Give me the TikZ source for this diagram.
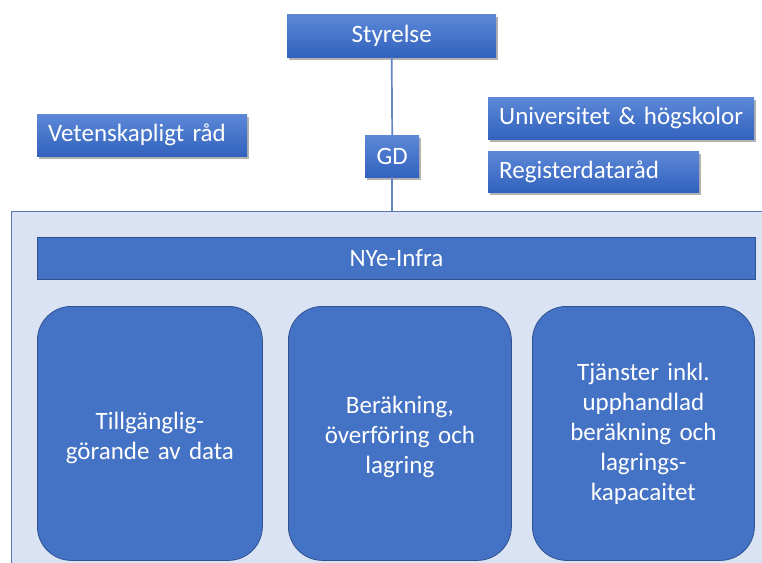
\documentclass[tikz,border=0pt]{standalone}
\usepackage{fontspec}
\setmainfont{Carlito}[WordSpace=0.7]
\usetikzlibrary{shadows}
\definecolor{boxblue}{HTML}{4472C4}
\definecolor{boxedge}{HTML}{2F528F}
\definecolor{panel}{HTML}{DAE3F3}
\definecolor{paneledge}{HTML}{5877B3}
\definecolor{linkblue}{HTML}{6486C8}
\definecolor{gradtop}{HTML}{5C88D6}
\definecolor{gradbot}{HTML}{3262BE}

\begin{document}
\begin{tikzpicture}[x=1pt,y=-1pt,
  every node/.style={font=\fontsize{25}{30}\selectfont, text=white, inner sep=0pt},
  topbox/.style={rectangle, anchor=north west, top color=gradtop, bottom color=gradbot,
    drop shadow={shadow xshift=2pt, shadow yshift=-3pt, opacity=0.3, fill=black}},
  leftbox/.style={topbox, align=left, inner xsep=11pt},
  flatbox/.style={rectangle, anchor=north west, fill=boxblue, draw=boxedge, line width=0.8pt},
  unitbox/.style={flatbox, rounded corners=34pt, align=center, minimum height=254pt},
  link/.style={draw=linkblue, line width=1.7pt}
]
\useasboundingbox (0,0) rectangle (762,562);
\clip (0,0) rectangle (762,562);

% organisation panel
\node[anchor=north west, fill=panel, draw=paneledge, line width=1.2pt,
      minimum width=790pt, minimum height=400pt] (frame) at (11,211) {};

% governance boxes
\node[topbox, minimum width=209pt, minimum height=43pt] (styrelse) at (287,14) {Styrelse};
\node[topbox, minimum width=54pt, minimum height=42pt] (gd) at (365,135) {GD};
\node[leftbox, text width=188pt, minimum height=42pt] (vr) at (37,114) {Vetenskapligt råd};
\node[leftbox, text width=244pt, minimum height=42pt] (uh) at (488,97) {Universitet \& högskolor};
\node[leftbox, text width=189pt, minimum height=41pt] (rd) at (488,151) {Registerdataråd};

% reporting line
\path[link] (styrelse.south) -- (gd.north);
\path[link] (gd.south) -- (gd.south |- frame.north);

% infrastructure content
\node[flatbox, minimum width=718pt, minimum height=42pt] (nye) at (37,237) {NYe-Infra};
\node[unitbox, minimum width=225pt, text width=200pt] (u1) at (37,306)
  {\rule{0pt}{27pt}Tillgänglig-\\görande av data};
\node[unitbox, minimum width=223pt, text width=200pt] (u2) at (288,306)
  {\rule{0pt}{25pt}Beräkning,\\överföring och\\lagring};
\node[unitbox, minimum width=222pt, text width=200pt] (u3) at (532,306)
  {Tjänster inkl.\\upphandlad\\beräkning och\\lagrings-\\kapacaitet};
\end{tikzpicture}
\end{document}
